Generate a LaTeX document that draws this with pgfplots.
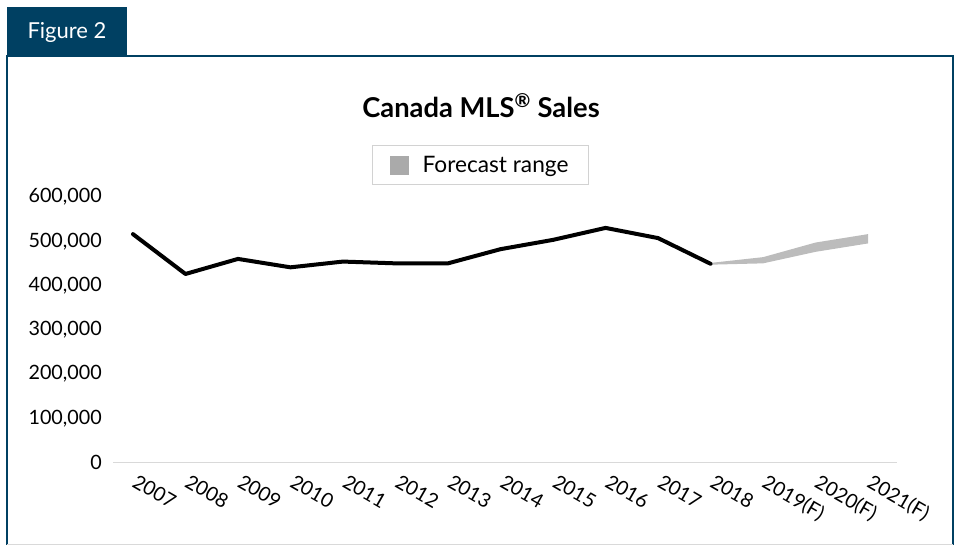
\documentclass[border=0pt]{standalone}
\usepackage{pgfplots}
\pgfplotsset{compat=1.18}
\usepackage{fontspec}
\setmainfont{Lato}
\definecolor{frameblue}{RGB}{0,64,98}
\definecolor{bandgray}{RGB}{188,188,188}
\definecolor{leggray}{RGB}{170,170,170}
\definecolor{axgray}{RGB}{217,217,217}
\definecolor{legframe}{RGB}{210,210,210}
\begin{document}
\begin{tikzpicture}
\useasboundingbox (0pt,0pt) rectangle (717.75pt,408.75pt);
% tab
\fill[frameblue] (5.25pt,366.75pt) rectangle (95.25pt,403.5pt);
\node[text=white, font=\fontsize{16.5}{20}\selectfont] at (50.25pt,384.5pt) {Figure 2};
% frame
\draw[frameblue, line width=1.5pt] (5.25pt,-1pt) -- (5.25pt,366.75pt) -- (714.75pt,366.75pt) -- (714.75pt,-1pt);
\draw[axgray, line width=0.75pt] (5.25pt,0.4pt) -- (714.75pt,0.4pt);
% title
\node[font=\bfseries\fontsize{20.5}{24}\selectfont] at (360.75pt,329.25pt) {Canada MLS\textsuperscript{®} Sales};
\begin{axis}[
  at={(84.75pt,61.725pt)}, anchor=south west,
  scale only axis, width=588pt, height=199.35pt,
  xmin=-0.38, xmax=14.55, ymin=0, ymax=600000,
  axis line style={draw=none},
  tick style={draw=none},
  ytick={0,100000,...,600000},
  scaled y ticks=false,
  /pgf/number format/fixed,
  /pgf/number format/1000 sep={,},
  /pgf/number format/assume math mode=true,
  yticklabel style={anchor=east, inner sep=0pt, xshift=-8.25pt},
  xtick={0,...,14},
  xticklabels={2007,2008,2009,2010,2011,2012,2013,2014,2015,2016,2017,2018,2019(F),2020(F),2021(F)},
  xticklabel style={yshift=-8pt, xshift=4pt, rotate=-30, anchor=north west, inner sep=0pt},
  tick label style={font=\fontsize{14.8}{18}\selectfont},
  legend style={at={(0.469,1.12)}, anchor=center, draw=legframe, line width=0.75pt,
    inner xsep=13pt, inner ysep=6pt, font=\fontsize{17}{20}\selectfont,
    /tikz/every odd column/.append style={column sep=8pt}},
  clip=false,
]
\draw[axgray, line width=0.9pt] (rel axis cs:0,0) -- (rel axis cs:1,0);
\addplot[fill=bandgray, draw=none, area legend,
  legend image code/.code={\fill[leggray] (0pt,-7.125pt) rectangle (14.25pt,7.125pt);}]
  coordinates {(11,451000) (12,464000) (13,497000) (14,516000) (14,495000) (13,476000) (12,450000) (11,447000)} -- cycle;
\addlegendentry{Forecast range}
\addplot[black, line width=3pt, line join=round, line cap=round, forget plot]
  coordinates {(0,516000) (1,426000) (2,460000) (3,441000) (4,454000) (5,450000) (6,450000) (7,482000) (8,503000) (9,530000) (10,507000) (11,449000)};
\end{axis}
\end{tikzpicture}
\end{document}
